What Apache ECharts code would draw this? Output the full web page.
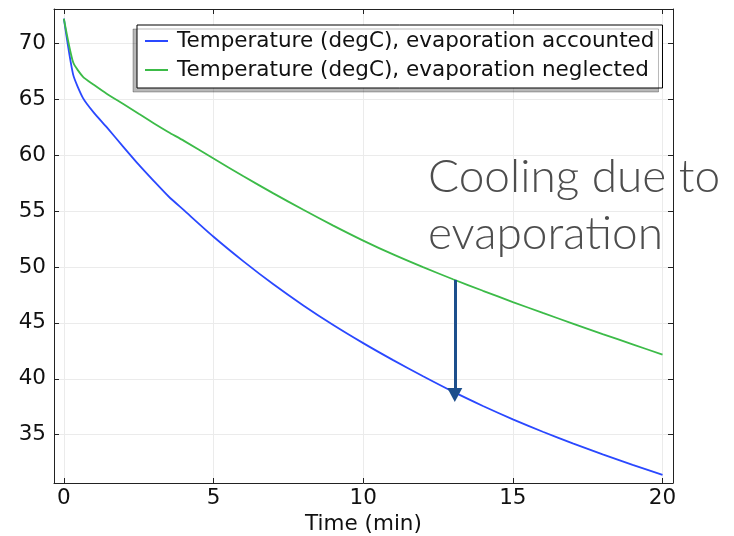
<!DOCTYPE html>
<html>
<head>
<meta charset="utf-8">
<script src="https://cdn.jsdelivr.net/npm/echarts@6/dist/echarts.min.js"></script>
<style>
html,body{margin:0;padding:0;background:#fff;}
#chart{width:734px;height:536px;}
</style>
</head>
<body>
<div id="chart"></div>
<script>
// Data
const timeMin = [0, 0.31, 0.64, 1.0, 1.43, 2, 2.5, 3, 3.5, 4, 5, 6, 7, 8, 9, 10, 11, 12, 13, 14, 15, 16, 17, 18, 19, 20];
const tempAccounted = [72.2, 67.2, 65.1, 63.8, 62.5, 60.7, 59.15, 57.7, 56.3, 55.1, 52.7, 50.5, 48.45, 46.56, 44.81, 43.19, 41.67, 40.23, 38.85, 37.57, 36.37, 35.26, 34.22, 33.24, 32.3, 31.4];
const tempNeglected = [72.2, 68.3, 67.0, 66.3, 65.5, 64.55, 63.7, 62.85, 62.05, 61.3, 59.7, 58.11, 56.58, 55.11, 53.7, 52.36, 51.12, 49.98, 48.9, 47.87, 46.86, 45.89, 44.94, 44.0, 43.08, 42.16];
const xTicks = [0, 5, 10, 15, 20];
const yTicks = [35, 40, 45, 50, 55, 60, 65, 70];
const seriesNames = ['Temperature (degC), evaporation accounted', 'Temperature (degC), evaporation neglected'];
const arrowTime = 13.06;
const arrowFrom = 48.84;
const arrowTo = 38.55;
const annotationText = 'Cooling due to\nevaporation';

const font = 'DejaVu Sans';
const fsz = 21.5;
const pairs = (xs, ys) => xs.map((x, i) => [x, ys[i]]);

const chart = echarts.init(document.getElementById('chart'), null, {renderer: 'canvas'});

const xBase = {
  type: 'value', min: -0.33, max: 20.35,
  axisLine: {show: true, onZero: false, lineStyle: {color: '#222', width: 1}},
  axisTick: {show: true, inside: true, length: 5, customValues: xTicks, lineStyle: {color: '#222'}},
  splitLine: {show: false}
};
const yBase = {
  type: 'value', min: 30.68, max: 73.07,
  axisLine: {show: true, onZero: false, lineStyle: {color: '#222', width: 1}},
  axisTick: {show: true, inside: true, length: 5, customValues: yTicks, lineStyle: {color: '#222'}},
  splitLine: {show: false}
};

chart.setOption({
  animation: false,
  backgroundColor: '#fff',
  grid: {left: 54, right: 61, top: 9, bottom: 53, outerBoundsMode: 'none', containLabel: false},
  xAxis: [
    Object.assign({}, xBase, {
      position: 'bottom',
      axisLabel: {show: true, customValues: xTicks, color: '#111', fontFamily: font, fontSize: fsz, margin: 4},
      splitLine: {show: true, lineStyle: {color: '#ebebeb', width: 1}},
      name: 'Time (min)', nameLocation: 'middle', nameGap: 30,
      nameTextStyle: {color: '#111', fontFamily: font, fontSize: fsz}
    }),
    Object.assign({}, xBase, {position: 'top', axisLabel: {show: false}})
  ],
  yAxis: [
    Object.assign({}, yBase, {
      position: 'left',
      axisLabel: {show: true, customValues: yTicks, color: '#111', fontFamily: font, fontSize: fsz, margin: 8},
      splitLine: {show: true, lineStyle: {color: '#ebebeb', width: 1}}
    }),
    Object.assign({}, yBase, {position: 'right', axisLabel: {show: false}})
  ],
  legend: {
    orient: 'vertical', left: 137, top: 25,
    padding: [4, 8, 6, 8], itemGap: 5, itemWidth: 23, itemHeight: 2, icon: 'rect',
    backgroundColor: '#fff', borderColor: '#000', borderWidth: 1, borderRadius: 0,
    shadowColor: 'rgba(0,0,0,0.28)', shadowBlur: 0, shadowOffsetX: -4, shadowOffsetY: 4,
    textStyle: {color: '#111', fontFamily: font, fontSize: fsz, lineHeight: 24, padding: [0, 0, 0, 4]},
    data: seriesNames
  },
  series: [
    {
      name: seriesNames[0], type: 'line', xAxisIndex: 0, yAxisIndex: 0,
      data: pairs(timeMin, tempAccounted), symbol: 'none', smooth: 0.2,
      lineStyle: {color: '#2a48ff', width: 1.8}, itemStyle: {color: '#2a48ff'},
      markLine: {
        silent: true, animation: false,
        symbol: ['none', 'triangle'], symbolSize: [15, 14], symbolOffset: [-7, 0],
        lineStyle: {color: '#1d4f8c', width: 3, type: 'solid'},
        label: {show: false},
        data: [[{coord: [arrowTime, arrowFrom]}, {coord: [arrowTime, arrowTo]}]]
      }
    },
    {
      name: seriesNames[1], type: 'line', xAxisIndex: 0, yAxisIndex: 0,
      data: pairs(timeMin, tempNeglected), symbol: 'none', smooth: 0.2,
      lineStyle: {color: '#3cbb48', width: 1.8}, itemStyle: {color: '#3cbb48'}
    }
  ],
  graphic: [{
    type: 'text', left: 428, top: 149, z: 10,
    style: {text: annotationText, fill: '#4d4d4d', fontFamily: 'Lato', fontWeight: 300, fontSize: 46, lineHeight: 57}
  }]
});
</script>
</body>
</html>
